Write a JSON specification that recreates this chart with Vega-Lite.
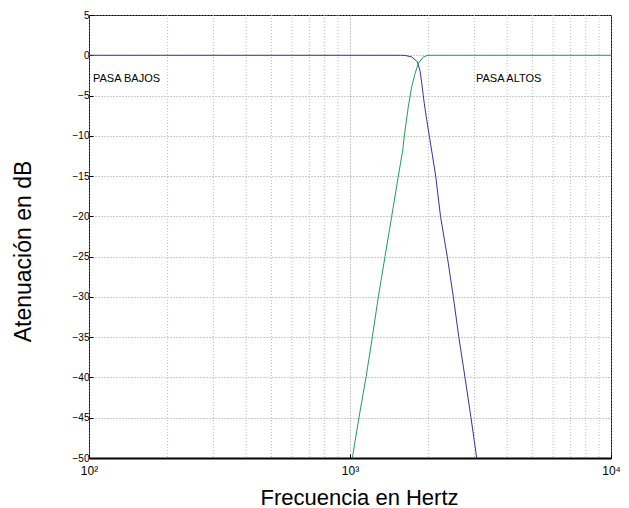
{
  "$schema": "https://vega.github.io/schema/vega-lite/v6.json",
  "autosize": {"type": "none"},
  "padding": {"left": 89, "top": 15, "right": 18, "bottom": 50},
  "width": 522,
  "height": 443,
  "background": "white",
  "config": {
    "view": {"stroke": "black", "strokeWidth": 1},
    "font": "Liberation Sans"
  },
  "datasets": {
    "curves": [
      {"f": 100, "db": 0, "s": "bajos"},
      {"f": 1000, "db": 0, "s": "bajos"},
      {"f": 1560, "db": 0, "s": "bajos"},
      {"f": 1624.5, "db": -0.02, "s": "bajos"},
      {"f": 1723.6, "db": -0.2, "s": "bajos"},
      {"f": 1811, "db": -0.8, "s": "bajos"},
      {"f": 1855, "db": -1.9, "s": "bajos"},
      {"f": 1883, "db": -3.5, "s": "bajos"},
      {"f": 1909, "db": -5, "s": "bajos"},
      {"f": 1926, "db": -6, "s": "bajos"},
      {"f": 1967, "db": -8, "s": "bajos"},
      {"f": 2013, "db": -10, "s": "bajos"},
      {"f": 2130, "db": -15, "s": "bajos"},
      {"f": 2222, "db": -20, "s": "bajos"},
      {"f": 2359, "db": -25, "s": "bajos"},
      {"f": 2488, "db": -30, "s": "bajos"},
      {"f": 2612, "db": -35, "s": "bajos"},
      {"f": 2758, "db": -40, "s": "bajos"},
      {"f": 2908, "db": -45, "s": "bajos"},
      {"f": 3058, "db": -50, "s": "bajos"},
      {"f": 1020.5, "db": -50, "s": "altos"},
      {"f": 1082, "db": -45, "s": "altos"},
      {"f": 1151.5, "db": -40, "s": "altos"},
      {"f": 1217.6, "db": -35, "s": "altos"},
      {"f": 1283.9, "db": -30, "s": "altos"},
      {"f": 1361.9, "db": -25, "s": "altos"},
      {"f": 1444.8, "db": -20, "s": "altos"},
      {"f": 1531.4, "db": -15, "s": "altos"},
      {"f": 1592, "db": -11.8, "s": "altos"},
      {"f": 1614.5, "db": -10, "s": "altos"},
      {"f": 1672.7, "db": -6.4, "s": "altos"},
      {"f": 1723.6, "db": -3.9, "s": "altos"},
      {"f": 1774.4, "db": -2.3, "s": "altos"},
      {"f": 1827, "db": -1.0, "s": "altos"},
      {"f": 1909, "db": -0.2, "s": "altos"},
      {"f": 1990, "db": 0, "s": "altos"},
      {"f": 3000, "db": 0, "s": "altos"},
      {"f": 10000, "db": 0, "s": "altos"}
    ],
    "minor": [
      {"f": 200}, {"f": 300}, {"f": 400}, {"f": 500}, {"f": 600}, {"f": 700}, {"f": 800}, {"f": 900},
      {"f": 2000}, {"f": 3000}, {"f": 4000}, {"f": 5000}, {"f": 6000}, {"f": 7000}, {"f": 8000}, {"f": 9000}
    ],
    "labels": [
      {"f": 103.6, "db": -2.9, "t": "PASA BAJOS"},
      {"f": 3039, "db": -2.9, "t": "PASA ALTOS"}
    ]
  },
  "layer": [
    {
      "data": {"name": "minor"},
      "mark": {"type": "rule", "stroke": "#bdbdbd", "strokeWidth": 1, "strokeDash": [1, 2]},
      "encoding": {
        "x": {
          "field": "f", "type": "quantitative",
          "scale": {"type": "log", "domain": [100, 10000]},
          "axis": {
            "title": "Frecuencia en Hertz",
            "titleFont": "Liberation Sans", "titleFontSize": 22, "titleFontWeight": "normal", "titleColor": "black",
            "titleX": 270, "titleY": 46, "titleAlign": "center", "titleBaseline": "alphabetic",
            "values": [100, 1000, 10000],
            "labelExpr": "datum.value == 100 ? '10²' : datum.value == 1000 ? '10³' : '10⁴'",
            "labelFontSize": 12, "labelColor": "black", "labelPadding": 11,
            "labelFlush": false, "labelBound": false, "labelOverlap": false,
            "domain": true, "domainColor": "black", "domainWidth": 2,
            "ticks": true, "tickSize": -4, "tickColor": "black",
            "grid": true, "gridColor": "#999999", "gridDash": [1, 2], "gridWidth": 1
          }
        }
      }
    },
    {
      "data": {"name": "curves"},
      "mark": {"type": "line", "strokeWidth": 1, "clip": true},
      "encoding": {
        "x": {
          "field": "f", "type": "quantitative",
          "scale": {"type": "log", "domain": [100, 10000]}
        },
        "y": {
          "field": "db", "type": "quantitative",
          "scale": {"domain": [-50, 5], "nice": false, "zero": false},
          "axis": {
            "title": "Atenuación en dB",
            "titleFont": "Liberation Sans", "titleFontSize": 23, "titleFontWeight": "normal", "titleColor": "black",
            "titleX": -59, "titleY": 236, "titleAlign": "center", "titleBaseline": "alphabetic", "titleAngle": -90,
            "values": [5, 0, -5, -10, -15, -20, -25, -30, -35, -40, -45, -50],
            "labelFontSize": 10, "labelColor": "black", "labelPadding": 4,
            "labelFlush": false, "labelBound": false,
            "domain": false, "ticks": true, "tickSize": -4, "tickColor": "black",
            "grid": true, "gridColor": "#999999", "gridDash": [1, 2], "gridWidth": 1
          }
        },
        "color": {
          "field": "s", "type": "nominal",
          "scale": {"domain": ["bajos", "altos"], "range": ["#2e36a0", "#1f9e5a"]},
          "legend": null
        }
      }
    },
    {
      "data": {"name": "labels"},
      "mark": {"type": "text", "align": "left", "baseline": "middle", "fontSize": 11, "color": "black", "font": "Liberation Sans"},
      "encoding": {
        "x": {"field": "f", "type": "quantitative", "scale": {"type": "log", "domain": [100, 10000]}},
        "y": {"field": "db", "type": "quantitative", "scale": {"domain": [-50, 5], "nice": false, "zero": false}},
        "text": {"field": "t"}
      }
    }
  ]
}
